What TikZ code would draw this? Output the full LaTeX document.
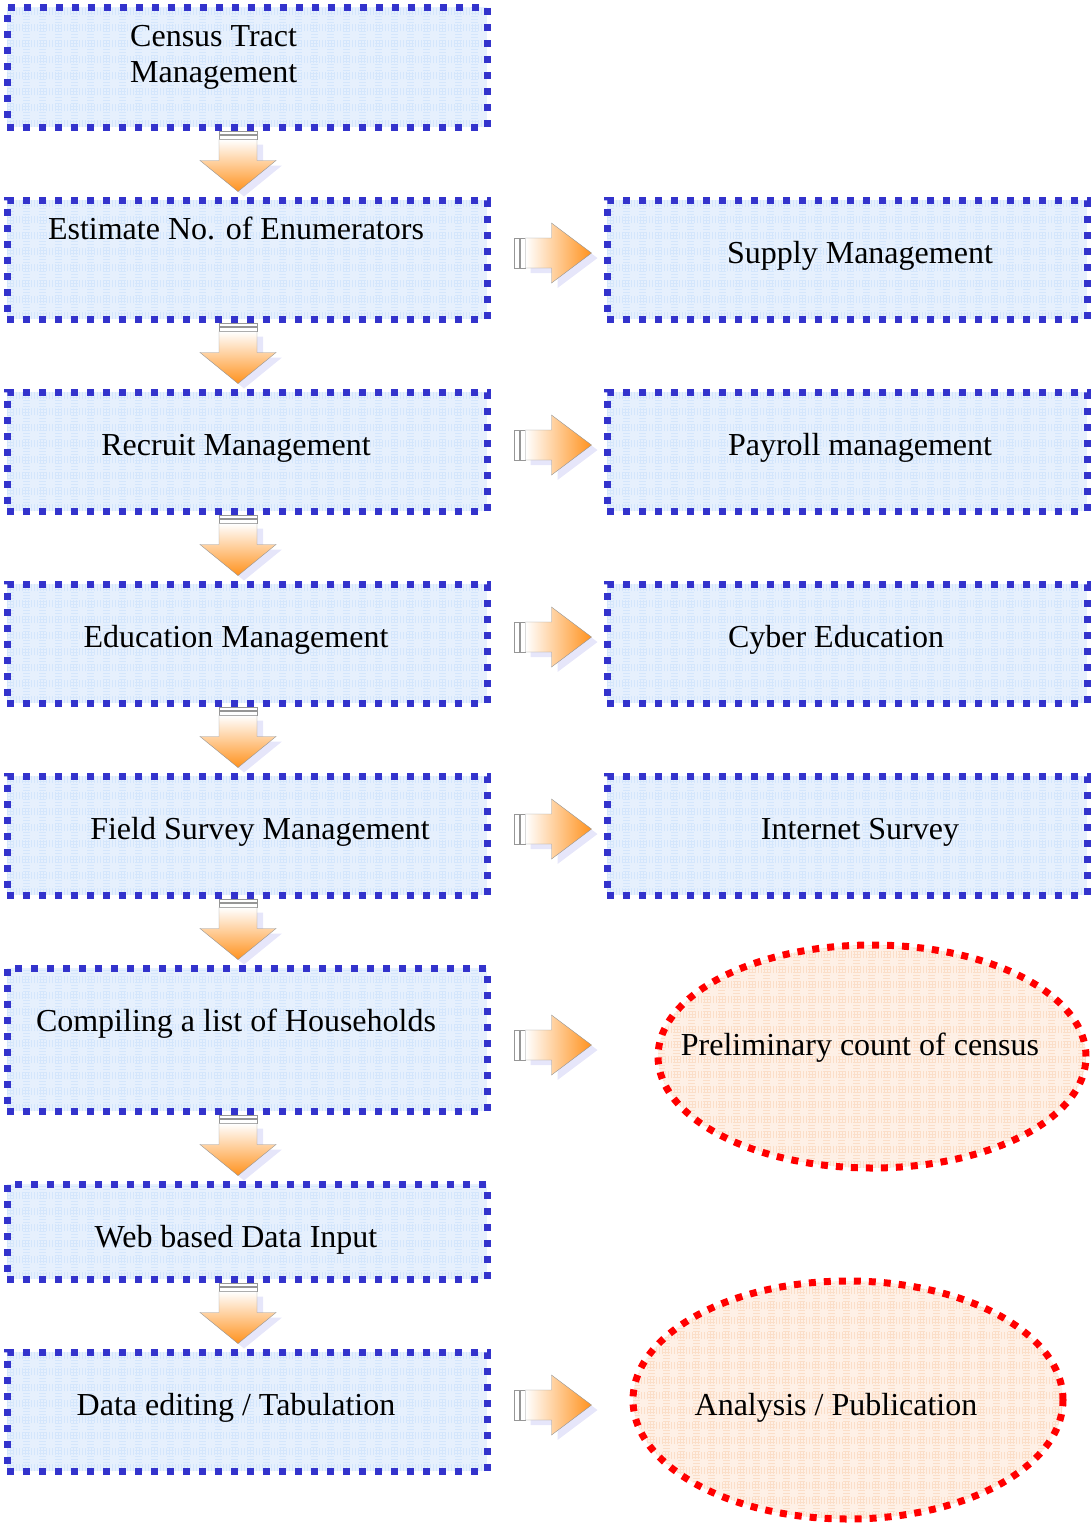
\documentclass[tikz,border=0pt]{standalone}
\usepackage{fontspec}
\setmainfont{Liberation Serif}
\usetikzlibrary{calc,shapes.geometric}

\definecolor{boxblue}{RGB}{51,51,204}
\definecolor{boxfill}{RGB}{230,240,253}
\definecolor{boxgrid}{RGB}{212,230,252}
\definecolor{ellred}{RGB}{255,0,0}
\definecolor{ellfill}{RGB}{254,240,230}
\definecolor{ellgrid}{RGB}{251,222,200}
\definecolor{arroworange}{RGB}{255,146,30}
\definecolor{arrowline}{RGB}{150,150,150}
\definecolor{arrowshadow}{RGB}{230,230,250}

\tikzset{
  stagebox/.style={rectangle, draw=boxblue, fill=boxfill, line width=7pt,
    dash pattern=on 7pt off 9pt, inner sep=0pt, minimum width=480pt,
    path picture={\draw[boxgrid, line width=0.5pt]
      (path picture bounding box.south west) grid[step=3pt]
      (path picture bounding box.north east);}},
  resultell/.style={ellipse, draw=ellred, fill=ellfill, line width=7pt,
    dash pattern=on 7pt off 8pt, inner sep=0pt,
    path picture={\draw[ellgrid, line width=0.5pt]
      (path picture bounding box.south west) grid[step=3pt]
      (path picture bounding box.north east);}},
  txt/.style={anchor=base, inner sep=0pt, font=\fontsize{32}{36}\selectfont},
}

% fat down arrow, #1 = top of the stem
\newcommand{\fatdown}[1]{
  \begin{scope}[shift={#1}]
    \fill[arrowshadow] (-13,14)--(25,14)--(25,35)--(44,35)--(6,66)--(-32,35)--(-13,35)--cycle;
    \draw[arrowline, fill=white] (-19,0.5) rectangle (19,4);
    \draw[arrowline, fill=white] (-19,4.5) rectangle (19,8.5);
    \path[draw=arrowline, top color=white, bottom color=arroworange]
      (-19,9)--(19,9)--(19,30)--(38,30)--(0,61)--(-38,30)--(-19,30)--cycle;
  \end{scope}
}

% fat right arrow, #1 = left end on the axis
\newcommand{\fatright}[1]{
  \begin{scope}[shift={#1}]
    \fill[arrowshadow] (15,-10)--(42,-10)--(42,-25)--(82,5)--(42,35)--(42,20)--(15,20)--cycle;
    \draw[arrowline, fill=white] (-1,-15) rectangle (4,15);
    \draw[arrowline, fill=white] (5,-15) rectangle (10,15);
    \path[draw=arrowline, left color=white, right color=arroworange]
      (10,-15)--(36,-15)--(36,-30)--(76,0)--(36,30)--(36,15)--(10,15)--cycle;
  \end{scope}
}

\begin{document}
\begin{tikzpicture}[x=1pt, y=-1pt]
  \useasboundingbox (0,0) rectangle (1092,1524);

  % left column
  \node[stagebox, minimum height=120pt] (census) at (247,67) {};
  \node[stagebox, minimum height=119pt] (estimate) at (247,259.5) {};
  \node[stagebox, minimum height=119pt] (recruit) at (247,451.5) {};
  \node[stagebox, minimum height=119pt] (education) at (247,643.5) {};
  \node[stagebox, minimum height=119pt] (field) at (247,835.5) {};
  \node[stagebox, minimum height=143pt] (compiling) at (247,1039.5) {};
  \node[stagebox, minimum height=95pt] (web) at (247,1231.5) {};
  \node[stagebox, minimum height=119pt] (dataedit) at (247,1411.5) {};

  % right column
  \node[stagebox, minimum height=119pt] (supply) at (847,259.5) {};
  \node[stagebox, minimum height=119pt] (payroll) at (847,451.5) {};
  \node[stagebox, minimum height=119pt] (cyber) at (847,643.5) {};
  \node[stagebox, minimum height=119pt] (internet) at (847,835.5) {};
  \node[resultell, minimum width=428pt, minimum height=223pt] (prelim) at (872,1056.5) {};
  \node[resultell, minimum width=430pt, minimum height=238pt] (analysis) at (848,1400) {};

  % texts
  \node[txt, anchor=west, align=left] (censust) at (130,57.5) {Census Tract\\Management};
  \node[txt] (estimatet) at (236,239) {Estimate No. of Enumerators};
  \node[txt] (recruitt) at (236,455) {Recruit Management};
  \node[txt] (educationt) at (236,647) {Education Management};
  \node[txt] (fieldt) at (260,839) {Field Survey Management};
  \node[txt] (compilingt) at (236,1031) {Compiling a list of Households};
  \node[txt] (webt) at (236,1247) {Web based Data Input};
  \node[txt] (dataeditt) at (236,1415) {Data editing / Tabulation};
  \node[txt] (supplyt) at (860,263) {Supply Management};
  \node[txt] (payrollt) at (860,455) {Payroll management};
  \node[txt] (cybert) at (836,647) {Cyber Education};
  \node[txt] (internett) at (860,839) {Internet Survey};
  \node[txt] (prelimt) at (860,1055) {Preliminary count of census};
  \node[txt] (analysist) at (836,1415) {Analysis / Publication};

  % arrows down the left column
  \foreach \a in {census,estimate,recruit,education,field,compiling,web}
    \fatdown{([xshift=-9pt]\a.south)};

  % arrows across to the right column
  \foreach \a/\dy in {estimate/6.5,recruit/6.5,education/6.5,field/6.5,compiling/-5.5,dataedit/6.5}
    \fatright{([xshift=25pt,yshift=\dy pt]\a.east)};
\end{tikzpicture}
\end{document}
